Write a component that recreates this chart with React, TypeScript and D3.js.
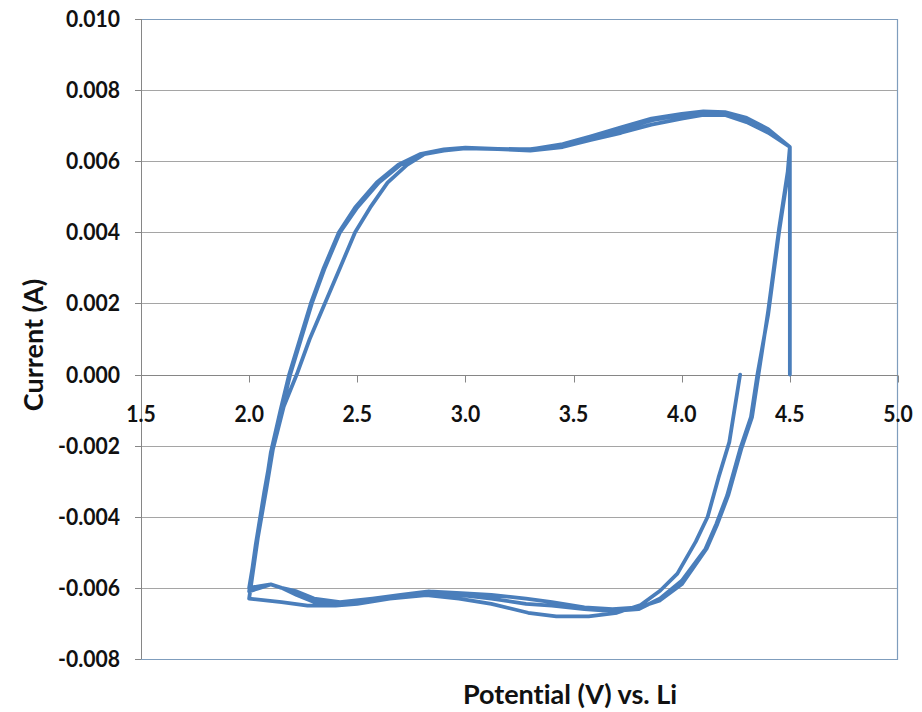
import React, { useRef, useEffect } from "react";
import * as d3 from "d3";

// tick values
const potentialTicks = [1.5, 2.0, 2.5, 3.0, 3.5, 4.0, 4.5, 5.0];
const currentTicks = [-0.008, -0.006, -0.004, -0.002, 0, 0.002, 0.004, 0.006, 0.008, 0.01];

// cycle 1: starts at open circuit (4.27 V), sweeps down then back up to 4.5 V
const cycle1: [number, number][] = [
  [4.27, 0.0], [4.22, -0.0019], [4.17, -0.0029], [4.12, -0.004], [4.065, -0.0047],
  [3.98, -0.0056], [3.9, -0.00608], [3.81, -0.00648], [3.7, -0.0067], [3.57, -0.0068],
  [3.42, -0.0068], [3.29, -0.0067], [3.12, -0.00645], [2.97, -0.0063], [2.82, -0.0062],
  [2.65, -0.0063], [2.5, -0.00645], [2.4, -0.0065], [2.27, -0.0065], [2.15, -0.0064],
  [2.0, -0.0063],
  [2.04, -0.0046], [2.08, -0.0032], [2.11, -0.0021], [2.16, -0.0009], [2.22, 0.0],
  [2.28, 0.001], [2.35, 0.002], [2.42, 0.003], [2.49, 0.004], [2.56, 0.0047],
  [2.64, 0.0054], [2.73, 0.0059], [2.81, 0.0062], [2.9, 0.0063], [3.0, 0.00636],
  [3.15, 0.00634], [3.3, 0.0063], [3.45, 0.0064], [3.58, 0.0066], [3.72, 0.0068],
  [3.86, 0.00703], [4.0, 0.0072], [4.1, 0.0073], [4.2, 0.0073], [4.3, 0.0071],
  [4.4, 0.0068], [4.5, 0.0064],
];

// cycle 2
const cycle2: [number, number][] = [
  [4.49, 0.0056], [4.45, 0.004], [4.4, 0.0017], [4.35, 0.0], [4.32, -0.0012],
  [4.27, -0.0021], [4.21, -0.0034], [4.16, -0.0042], [4.11, -0.0049], [4.0, -0.0058],
  [3.9, -0.0063], [3.8, -0.0066], [3.68, -0.00665], [3.55, -0.0066], [3.4, -0.0065],
  [3.28, -0.00645], [3.12, -0.0063], [2.98, -0.0062], [2.83, -0.0061], [2.7, -0.0062],
  [2.57, -0.0063], [2.42, -0.0064], [2.3, -0.0063], [2.22, -0.0061], [2.15, -0.006],
  [2.1, -0.0059], [2.05, -0.006], [2.0, -0.0061],
  [2.03, -0.0048], [2.07, -0.0033], [2.105, -0.0021], [2.15, -0.001], [2.19, 0.0],
  [2.24, 0.001], [2.29, 0.002], [2.35, 0.003], [2.42, 0.004], [2.5, 0.0047],
  [2.6, 0.0054], [2.7, 0.0059], [2.8, 0.0062], [2.9, 0.00632], [3.0, 0.00637],
  [3.15, 0.00634], [3.3, 0.00634], [3.45, 0.00645], [3.58, 0.00665], [3.72, 0.0069],
  [3.86, 0.00715], [4.0, 0.0073], [4.1, 0.00737], [4.2, 0.00737], [4.3, 0.0072],
  [4.4, 0.0069], [4.5, 0.0064],
];

// cycle 3, then the current is switched off at 4.5 V
const cycle3: [number, number][] = [
  [4.49, 0.0057], [4.45, 0.0041], [4.4, 0.0018], [4.355, 0.0], [4.325, -0.0012],
  [4.275, -0.0021], [4.215, -0.0034], [4.165, -0.0042], [4.115, -0.0049], [4.0, -0.0059],
  [3.9, -0.00635], [3.8, -0.00655], [3.68, -0.0066], [3.55, -0.00655], [3.4, -0.0064],
  [3.28, -0.0063], [3.12, -0.0062], [2.98, -0.00615], [2.83, -0.0061], [2.7, -0.00625],
  [2.57, -0.00635], [2.42, -0.0064], [2.3, -0.0064], [2.22, -0.0062], [2.15, -0.006],
  [2.1, -0.0059], [2.05, -0.00595], [2.0, -0.006],
  [2.03, -0.0049], [2.07, -0.0034], [2.1, -0.0022], [2.145, -0.001], [2.185, 0.0],
  [2.235, 0.001], [2.285, 0.002], [2.345, 0.003], [2.415, 0.004], [2.49, 0.0047],
  [2.59, 0.0054], [2.69, 0.0059], [2.79, 0.0062], [2.9, 0.00633], [3.0, 0.00638],
  [3.15, 0.00635], [3.3, 0.00633], [3.45, 0.00648], [3.58, 0.0067], [3.72, 0.00695],
  [3.86, 0.0072], [4.0, 0.00733], [4.1, 0.0074], [4.2, 0.00738], [4.3, 0.00722],
  [4.4, 0.0069], [4.5, 0.0064], [4.5, 0.0],
];

const CVChart = () => {
  const svgRef = useRef<SVGSVGElement>(null);

  useEffect(() => {
    const svg = d3.select(svgRef.current);
    svg.selectAll("*").remove();

    const width = 922;
    const height = 712;
    const left = 141;
    const right = 898;
    const top = 19;
    const bottom = 659;

    const x = d3.scaleLinear().domain([1.5, 5.0]).range([left, right]);
    const y = d3.scaleLinear().domain([-0.008, 0.01]).range([bottom, top]);

    svg.attr("width", width).attr("height", height);
    svg.append("rect").attr("width", width).attr("height", height).attr("fill", "#fff");

    const font = "Lato, 'Open Sans', sans-serif";

    // horizontal gridlines
    svg
      .append("g")
      .selectAll("line")
      .data(currentTicks)
      .join("line")
      .attr("x1", left)
      .attr("x2", right)
      .attr("y1", (d) => Math.round(y(d)) + 0.5)
      .attr("y2", (d) => Math.round(y(d)) + 0.5)
      .attr("stroke", "#a5a5a5")
      .attr("stroke-width", 1);

    // outer frame (top, right, bottom)
    svg
      .append("path")
      .attr("d", `M${left},${top + 0.5}H${right - 0.5}V${bottom + 0.5}H${left}`)
      .attr("fill", "none")
      .attr("stroke", "#7f9dbd")
      .attr("stroke-width", 1.2);

    // y axis line and ticks
    svg
      .append("line")
      .attr("x1", left + 0.5)
      .attr("x2", left + 0.5)
      .attr("y1", top)
      .attr("y2", bottom)
      .attr("stroke", "#868686");

    svg
      .append("g")
      .selectAll("line")
      .data(currentTicks)
      .join("line")
      .attr("x1", left - 6)
      .attr("x2", left)
      .attr("y1", (d) => Math.round(y(d)) + 0.5)
      .attr("y2", (d) => Math.round(y(d)) + 0.5)
      .attr("stroke", "#868686");

    // tick labels are a bit condensed in the original
    svg
      .append("g")
      .selectAll("text")
      .data(currentTicks)
      .join("text")
      .attr("transform", (d) => `translate(120, ${y(d) + 8}) scale(0.92, 1)`)
      .attr("text-anchor", "end")
      .attr("font-family", font)
      .attr("font-weight", "bold")
      .attr("font-size", "23px")
      .attr("fill", "#111")
      .text((d) => d.toFixed(3));

    // x axis at zero current
    const y0 = Math.round(y(0)) + 0.5;
    svg
      .append("line")
      .attr("x1", left)
      .attr("x2", right)
      .attr("y1", y0)
      .attr("y2", y0)
      .attr("stroke", "#868686");

    svg
      .append("g")
      .selectAll("line")
      .data(potentialTicks)
      .join("line")
      .attr("x1", (d) => Math.round(x(d)) + 0.5)
      .attr("x2", (d) => Math.round(x(d)) + 0.5)
      .attr("y1", y0)
      .attr("y2", y0 + 7)
      .attr("stroke", "#868686");

    svg
      .append("g")
      .selectAll("text")
      .data(potentialTicks)
      .join("text")
      .attr("transform", (d) => `translate(${x(d)}, ${y0 + 46}) scale(0.92, 1)`)
      .attr("text-anchor", "middle")
      .attr("font-family", font)
      .attr("font-weight", "bold")
      .attr("font-size", "23px")
      .attr("fill", "#111")
      .text((d) => d.toFixed(1));

    // axis titles
    svg
      .append("text")
      .attr("transform", `translate(43, 345) rotate(-90)`)
      .attr("text-anchor", "middle")
      .attr("font-family", font)
      .attr("font-weight", "bold")
      .attr("font-size", "27px")
      .attr("fill", "#111")
      .style("font-variant-ligatures", "none")
      .text("Current (A)");

    svg
      .append("text")
      .attr("x", 570)
      .attr("y", 704)
      .attr("text-anchor", "middle")
      .attr("font-family", font)
      .attr("font-weight", "bold")
      .attr("font-size", "27px")
      .attr("fill", "#111")
      .style("font-variant-ligatures", "none")
      .text("Potential (V) vs. Li");

    // CV trace
    const line = d3
      .line<[number, number]>()
      .x((d) => x(d[0]))
      .y((d) => y(d[1]));

    svg
      .append("path")
      .datum([...cycle1, ...cycle2, ...cycle3])
      .attr("d", line)
      .attr("fill", "none")
      .attr("stroke", "#4a7ebb")
      .attr("stroke-width", 3.8)
      .attr("stroke-linejoin", "round")
      .attr("stroke-linecap", "round");
  }, []);

  return <svg ref={svgRef} style={{ position: "absolute", left: 0, top: 0, display: "block" }}></svg>;
};

export default function App() {
  return <CVChart />;
}
